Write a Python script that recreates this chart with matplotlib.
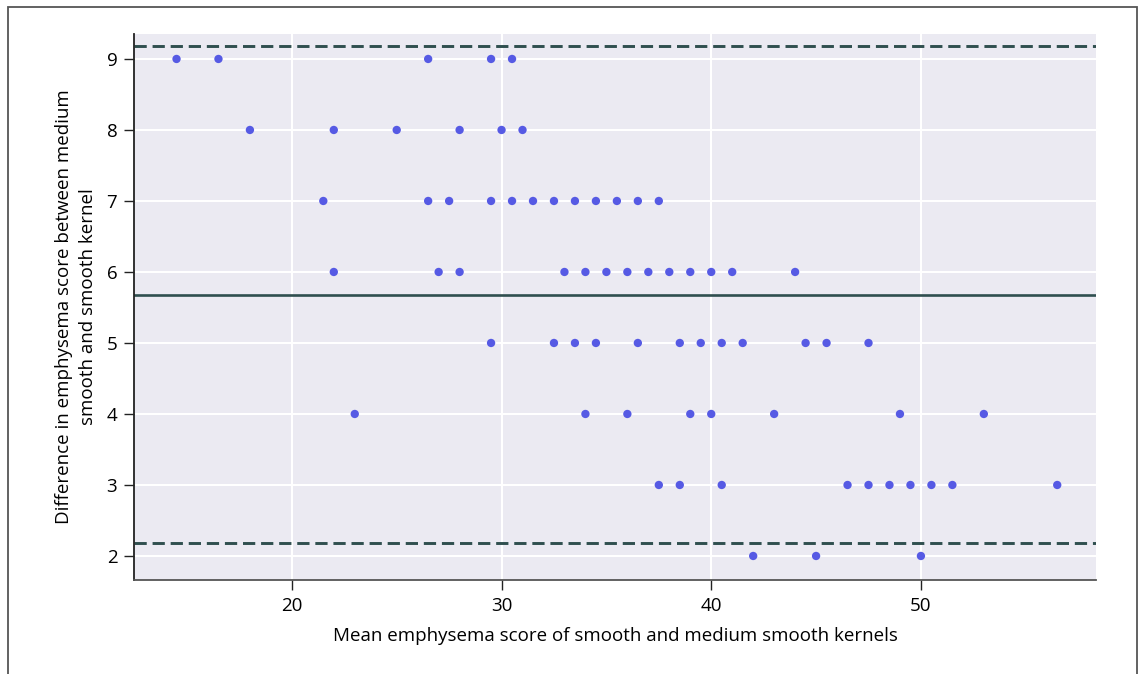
import matplotlib
matplotlib.use('Agg')
import matplotlib.pyplot as plt
import matplotlib.patches as mpatches

# Bland-Altman data: mean score (x) and difference (y), grouped by row
diff_9 = [14.5, 16.5, 26.5, 29.5, 30.5]
diff_8 = [18.0, 22.0, 25.0, 28.0, 30.0, 31.0]
diff_7 = [21.5, 26.5, 27.5, 29.5, 30.5, 31.5, 32.5, 33.5, 34.5, 35.5, 36.5,
          37.5]
diff_6 = [22.0, 27.0, 28.0, 33.0, 34.0, 35.0, 36.0, 37.0, 38.0, 39.0, 40.0,
          41.0, 44.0]
diff_5 = [29.5, 32.5, 33.5, 34.5, 36.5, 38.5, 39.5, 40.5, 41.5, 44.5, 45.5,
          47.5]
diff_4 = [23.0, 34.0, 36.0, 39.0, 40.0, 43.0, 49.0, 53.0]
diff_3 = [37.5, 38.5, 40.5, 46.5, 47.5, 48.5, 49.5, 50.5, 51.5, 56.5]
diff_2 = [42.0, 45.0, 50.0]

rows = {9: diff_9, 8: diff_8, 7: diff_7, 6: diff_6,
        5: diff_5, 4: diff_4, 3: diff_3, 2: diff_2}

mean_diff = 5.68
loa_upper = 9.18
loa_lower = 2.18

x_ticks = [20, 30, 40, 50]
y_ticks = [2, 3, 4, 5, 6, 7, 8, 9]


def main():
    plt.rcParams['font.family'] = ['Open Sans', 'DejaVu Sans']
    fig = plt.figure(figsize=(11.43, 6.74), dpi=100)
    ax = fig.add_axes([0.1172, 0.1395, 0.8417, 0.8101])

    # outer frame (bottom edge runs off the picture)
    fig.patches.append(mpatches.Rectangle(
        (8/1143, -0.05), (1137-8)/1143, 1.05 - 7/674,
        transform=fig.transFigure, fill=False, edgecolor='#555555',
        linewidth=1.3))

    ax.set_facecolor('#EBEAF2')
    ax.grid(True, color='white', linewidth=1.5)
    ax.set_axisbelow(True)

    xs, ys = [], []
    for d, vals in rows.items():
        xs += vals
        ys += [d] * len(vals)
    ax.scatter(xs, ys, s=36, color='#565AE4', edgecolors='none', zorder=3)

    ax.axhline(mean_diff, color='#2F4F4F', linewidth=1.9, zorder=2)
    for lev in (loa_upper, loa_lower):
        ax.axhline(lev, color='#2F4F4F', linewidth=2.1,
                   linestyle=(0, (4.2, 2.0)), zorder=2)

    ax.set_xlim(12.47, 58.35)
    ax.set_ylim(1.662, 9.352)
    ax.set_xticks(x_ticks)
    ax.set_yticks(y_ticks)

    for side in ('top', 'right'):
        ax.spines[side].set_visible(False)
    ax.spines['left'].set_color('#222222')
    ax.spines['bottom'].set_color('#555555')
    for side in ('left', 'bottom'):
        ax.spines[side].set_linewidth(1.3)
    ax.tick_params(direction='out', length=7, width=1, color='#222222',
                   labelsize=13.5, pad=5)

    ax.set_xlabel('Mean emphysema score of smooth and medium smooth kernels',
                  fontsize=13.5, labelpad=9)
    ax.set_ylabel('Difference in emphysema score between medium\n'
                  'smooth and smooth kernel', fontsize=13.5, labelpad=7,
                  linespacing=1.42)

    fig.savefig('out.png', dpi=100, facecolor='white')


if __name__ == '__main__':
    main()
